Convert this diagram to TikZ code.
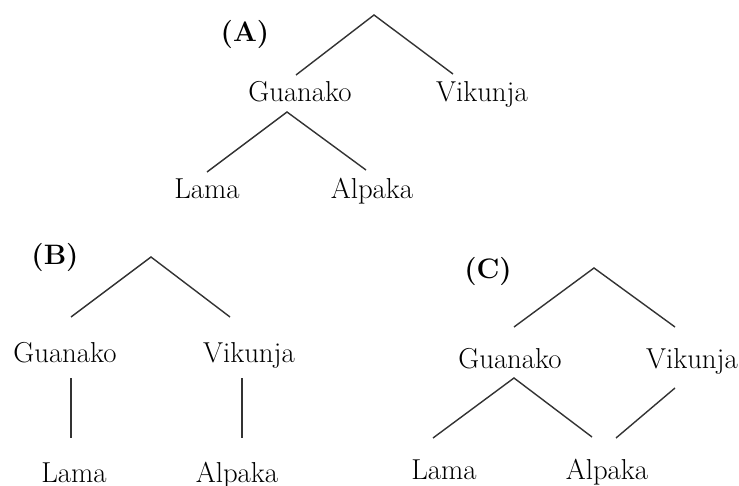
\documentclass[tikz,border=0pt]{standalone}
\usepackage{tikz}
\usetikzlibrary{positioning}

\begin{document}
\begin{tikzpicture}[x=0.025cm,y=-0.025cm,
  taxon/.style={anchor=base,inner sep=0pt,text=black,font=\fontsize{20.5}{24}\selectfont},
  tag/.style={anchor=base,inner sep=0pt,text=black,font=\fontsize{20}{24}\selectfont\bfseries},
  branch/.style={draw=black!80,line width=1pt}]
  \useasboundingbox (0,0) rectangle (739,486);
  % Tree A: (Lama, Alpaka) under Guanako, Vikunja apart
  \node[tag] (tagA) at (245,42) {(A)};
  \coordinate (topA) at (374,15);
  \coordinate (gtopA) at (287,112);
  \node[taxon] (guanA) at (300,102) {Guanako};
  \node[taxon] (vikA) at (482,102) {Vikunja};
  \node[taxon] (lamaA) at (207,199) {Lama};
  \node[taxon] (alpA) at (372,199) {Alpaka};
  \coordinate (gA) at (296,75); \coordinate (vA) at (453,74);
  \coordinate (lA) at (207,172); \coordinate (aA) at (366,170);
  \draw[branch] (gA) -- (topA) -- (vA);
  \draw[branch] (lA) -- (gtopA) -- (aA);
  % Tree B: Lama from Guanako, Alpaka from Vikunja
  \node[tag] (tagB) at (55,265) {(B)};
  \coordinate (topB) at (151,257);
  \node[taxon] (guanB) at (65,362) {Guanako};
  \node[taxon] (vikB) at (249,362) {Vikunja};
  \node[taxon] (lamaB) at (74,482) {Lama};
  \node[taxon] (alpB) at (237,482) {Alpaka};
  \coordinate (gB) at (71,317); \coordinate (vB) at (230,317);
  \draw[branch] (gB) -- (topB) -- (vB);
  \draw[branch] (71,378) -- (71,438);
  \draw[branch] (242,378) -- (242,438);
  % Tree C: Alpaka as a hybrid of Guanako and Vikunja
  \node[tag] (tagC) at (488,278) {(C)};
  \coordinate (topC) at (594,268);
  \coordinate (gtopC) at (514,378);
  \node[taxon] (guanC) at (510,368) {Guanako};
  \node[taxon] (vikC) at (692,368) {Vikunja};
  \node[taxon] (lamaC) at (444,479) {Lama};
  \node[taxon] (alpC) at (607,479) {Alpaka};
  \coordinate (gC) at (514,327); \coordinate (vC) at (675,327);
  \coordinate (lC) at (433,438); \coordinate (aC) at (592,437);
  \coordinate (vbC) at (675,388); \coordinate (abC) at (616,438);
  \draw[branch] (gC) -- (topC) -- (vC);
  \draw[branch] (lC) -- (gtopC) -- (aC);
  \draw[branch] (vbC) -- (abC);
\end{tikzpicture}
\end{document}
